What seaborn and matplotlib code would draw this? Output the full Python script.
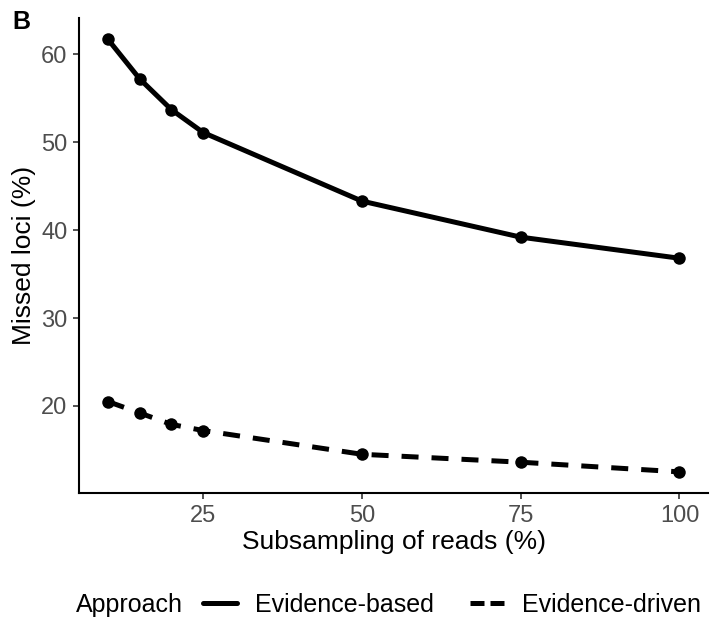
import pandas as pd
import seaborn as sns
import matplotlib.pyplot as plt
from matplotlib.lines import Line2D

# values
subsampling = [10, 15, 20, 25, 50, 75, 100]
evidence_based = [61.7, 57.2, 53.7, 51.1, 43.3, 39.2, 36.8]
evidence_driven = [20.5, 19.2, 17.9, 17.2, 14.5, 13.6, 12.5]
approaches = ['Evidence-based', 'Evidence-driven']
x_ticks = [25, 50, 75, 100]
y_ticks = [20, 30, 40, 50, 60]

df = pd.DataFrame({
    'Subsampling': subsampling * 2,
    'Missed': evidence_based + evidence_driven,
    'Approach': [approaches[0]] * len(subsampling) + [approaches[1]] * len(subsampling),
})


# ggplot style 5% padding on each side
def expand(lo, hi, frac=0.05):
    pad = (hi - lo) * frac
    return lo - pad, hi + pad


sns.set_theme(style='ticks')
plt.rcParams['font.family'] = ['Liberation Sans', 'DejaVu Sans']
plt.rcParams['text.color'] = 'black'

fig = plt.figure(figsize=(7.1, 6.22), dpi=100)
ax = fig.add_axes([0.1118, 0.2066, 0.8854, 0.7649])

dash_styles = {approaches[0]: '', approaches[1]: (3.4, 2.6)}
sns.lineplot(data=df, x='Subsampling', y='Missed', style='Approach',
             dashes=dash_styles, markers={a: 'o' for a in approaches},
             color='black', linewidth=3.6, markersize=9, markeredgewidth=0,
             legend=False, ax=ax)

ax.set_xlim(*expand(min(subsampling), max(subsampling)))
all_y = evidence_based + evidence_driven
ax.set_ylim(*expand(min(all_y), max(all_y)))
ax.set_xticks(x_ticks)
ax.set_yticks(y_ticks)

sns.despine(ax=ax)
for side in ['left', 'bottom']:
    ax.spines[side].set_linewidth(1.5)
    ax.spines[side].set_color('black')
ax.tick_params(length=4.5, width=1.2, color='#333333', labelcolor='#4D4D4D',
               labelsize=17, pad=4)

ax.set_xlabel('Subsampling of reads (%)', fontsize=19, color='black', labelpad=2)
ax.set_ylabel('Missed loci (%)', fontsize=19, color='black', labelpad=4)

# panel tag
fig.text(12 / 710, 1 - 10 / 622, 'B', fontsize=18, fontweight='bold',
         color='black', va='top', ha='left')

# legend along the bottom, title on the left
fig.text(76 / 710, 1 - 605 / 622, 'Approach', fontsize=18, color='black',
         va='center', ha='left')
handles = [
    Line2D([], [], color='black', linewidth=3.6),
    Line2D([], [], color='black', linewidth=3.6, dashes=(2.8, 1.2)),
]
leg = fig.legend(handles, approaches, loc='center left',
                 bbox_to_anchor=(203 / 710, 1 - 605 / 622), ncol=2, frameon=False,
                 fontsize=18, handlelength=1.36, handletextpad=0.72,
                 columnspacing=1.44, borderpad=0, borderaxespad=0)
for t in leg.get_texts():
    t.set_color('black')

fig.savefig('out.png', dpi=100)
